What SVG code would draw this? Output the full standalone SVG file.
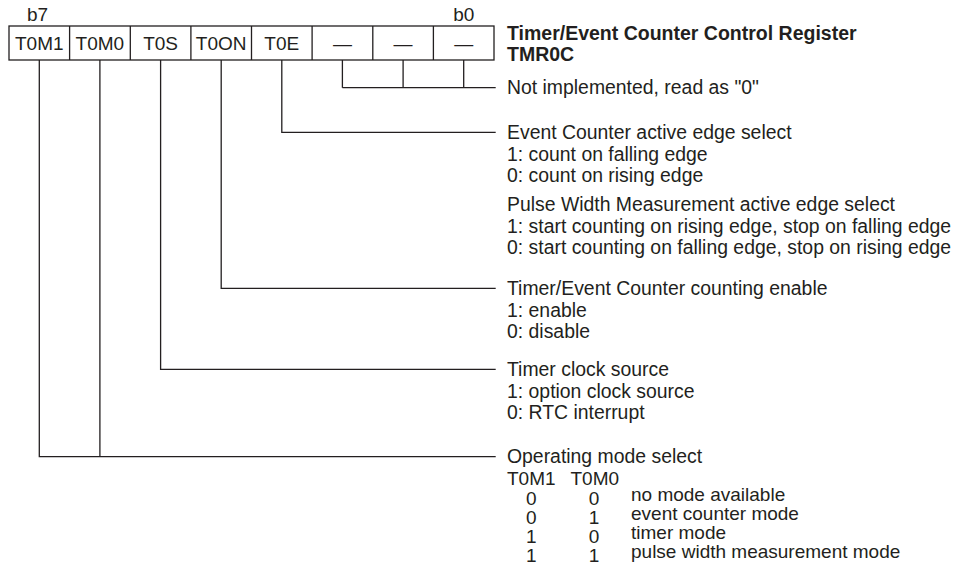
<svg xmlns="http://www.w3.org/2000/svg" width="963" height="581" viewBox="0 0 963 581">
<style>
text{font-family:"Liberation Sans",Arial,sans-serif;font-size:19.4px;fill:#231f20}
.b{font-weight:bold;font-size:19.5px}
.c{text-anchor:middle}
.r{font-size:19px}
.cell{fill:#fff;stroke:#231f20;stroke-width:1.3}
.ln{fill:none;stroke:#231f20;stroke-width:1.3}
</style>
<rect width="963" height="581" fill="#fff"/>
<g id="register">
<text x="37.5" y="21" class="c r">b7</text>
<text x="463.7" y="21" class="c r">b0</text>
<rect class="cell" x="9" y="26" width="485" height="34"/>
<path class="ln" d="M69.6 26V60M130.3 26V60M190.9 26V60M251.5 26V60M312.1 26V60M372.8 26V60M433.4 26V60"/>
<text x="39.3" y="49.5" class="c r">T0M1</text>
<text x="99.9" y="49.5" class="c r">T0M0</text>
<text x="160.6" y="49.5" class="c r">T0S</text>
<text x="221.2" y="49.5" class="c r">T0ON</text>
<text x="281.8" y="49.5" class="c r">T0E</text>
<text x="342.4" y="49.5" class="c r">—</text>
<text x="403.1" y="49.5" class="c r">—</text>
<text x="463.7" y="49.5" class="c r">—</text>
</g>
<g id="title">
<text x="507" y="40" class="b">Timer/Event Counter Control Register</text>
<text x="507" y="60.5" class="b">TMR0C</text>
</g>
<g id="connectors">
<path class="ln" d="M342.4 60V87.7M403.1 60V87.7M463.7 60V87.7M342.4 87.7H495.7"/>
<path class="ln" d="M281.8 60V132.3H495.7"/>
<path class="ln" d="M221.2 60V288.3H495.7"/>
<path class="ln" d="M160.6 60V369.3H495.7"/>
<path class="ln" d="M39.3 60V456.7H495.7M99.9 60V456.7"/>
</g>
<g id="desc-unimpl">
<text x="507" y="94.3">Not implemented, read as "0"</text>
</g>
<g id="desc-t0e">
<text x="507" y="139">Event Counter active edge select</text>
<text x="507" y="160.5">1: count on falling edge</text>
<text x="507" y="182">0: count on rising edge</text>
<text x="507" y="211">Pulse Width Measurement active edge select</text>
<text x="507" y="232.5">1: start counting on rising edge, stop on falling edge</text>
<text x="507" y="254">0: start counting on falling edge, stop on rising edge</text>
</g>
<g id="desc-t0on">
<text x="507" y="295">Timer/Event Counter counting enable</text>
<text x="507" y="316.5">1: enable</text>
<text x="507" y="338">0: disable</text>
</g>
<g id="desc-t0s">
<text x="507" y="376">Timer clock source</text>
<text x="507" y="397.5">1: option clock source</text>
<text x="507" y="419">0: RTC interrupt</text>
</g>
<g id="desc-t0m">
<text x="507" y="463.4">Operating mode select</text>
<text x="507" y="485" class="r">T0M1</text>
<text x="570.5" y="485" class="r">T0M0</text>
<text x="531.3" y="505" class="c r">0</text><text x="594" y="505" class="c r">0</text><text x="631" y="501" class="r">no mode available</text>
<text x="531.3" y="524" class="c r">0</text><text x="594" y="524" class="c r">1</text><text x="631" y="520" class="r">event counter mode</text>
<text x="531.3" y="543" class="c r">1</text><text x="594" y="543" class="c r">0</text><text x="631" y="539" class="r">timer mode</text>
<text x="531.3" y="562" class="c r">1</text><text x="594" y="562" class="c r">1</text><text x="631" y="558" class="r">pulse width measurement mode</text>
</g>
</svg>
